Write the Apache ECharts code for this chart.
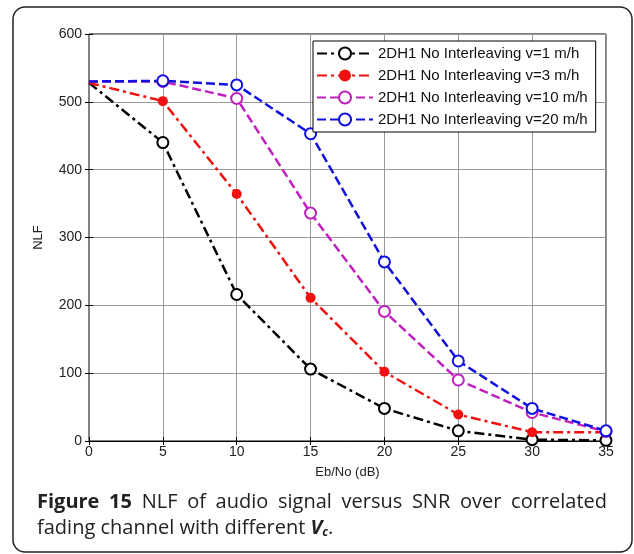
<!DOCTYPE html>
<html>
<head>
    <meta charset="utf-8"/>
    <title>NLF vs Eb/No</title>
    <script type="text/javascript" src="https://cdn.jsdelivr.net/npm/echarts@6/dist/echarts.min.js"></script>
    <style>
        html, body {
            margin: 0;
            padding: 0;
            background: #fff;
        }
    </style>
</head>
<body>
<div id="chart" style="width:634px;height:554px"></div>
<script type="text/javascript">
    // Eb/No (dB)
    const snr = [0, 5, 10, 15, 20, 25, 30, 35];
    const v1 = [528, 440, 216, 106, 48, 15, 2, 1];
    const v3 = [528, 501, 364, 211, 102, 39, 13, 13];
    const v10 = [530, 530, 505, 336, 191, 90, 42, 14];
    const v20 = [530, 531, 525, 453, 264, 118, 48, 15];
    const names = [
        '2DH1 No Interleaving v=1 m/h',
        '2DH1 No Interleaving v=3 m/h',
        '2DH1 No Interleaving v=10 m/h',
        '2DH1 No Interleaving v=20 m/h'
    ];
    const captionWords = ['Figure', '15', 'NLF', 'of', 'audio', 'signal', 'versus', 'SNR', 'over', 'correlated'];

    // no marker drawn on the first point (0 dB)
    function pairs(ys) {
        return snr.map((x, i) => i === 0 ? {value: [x, ys[i]], symbol: 'none'} : [x, ys[i]]);
    }

    const dashDot = [10, 4, 3, 4];
    const dash = [9, 4];

    function mkSeries(name, ys, color, dashType, filled) {
        return {
            name: name,
            type: 'line',
            data: pairs(ys),
            symbol: filled ? 'circle' : 'emptyCircle',
            symbolSize: filled ? 10 : 11,
            lineStyle: {color: color, width: 2.5, type: dashType},
            itemStyle: {color: color, borderWidth: 2.5},
            z: 3
        };
    }

    // caption: first line justified between x=37 and x=607
    const capFont = 20;
    const cv = document.createElement('canvas').getContext('2d');
    function measure(t, bold) {
        cv.font = (bold ? 'bold ' : '') + capFont + 'px "Open Sans"';
        return cv.measureText(t).width;
    }
    const capLeft = 37, capRight = 607;
    let total = 0;
    captionWords.forEach((w, i) => total += measure(w, i < 2));
    const gap = (capRight - capLeft - total) / (captionWords.length - 1);
    const capGraphics = [];
    let cx = capLeft;
    captionWords.forEach((w, i) => {
        capGraphics.push({
            type: 'text',
            x: cx, y: 502,
            style: {
                text: w,
                font: (i < 2 ? 'bold ' : '') + capFont + 'px "Open Sans"',
                fill: '#222',
                textVerticalAlign: 'middle'
            }
        });
        cx += measure(w, i < 2) + gap;
    });

    const chart = echarts.init(document.getElementById('chart'));
    const axisFont = {fontFamily: 'Liberation Sans', fontSize: 14, color: '#222'};

    chart.setOption({
        animation: false,
        grid: {
            left: 89, right: 28, top: 34, bottom: 113,
            show: true, borderColor: '#000', borderWidth: 1
        },
        legend: {
            data: names,
            orient: 'vertical',
            left: 313, top: 41,
            padding: [5, 8, 5, 3],
            itemGap: 7,
            itemWidth: 56,
            itemHeight: 15,
            backgroundColor: '#fff',
            borderColor: '#000',
            borderWidth: 1,
            borderRadius: 0,
            textStyle: {fontFamily: 'Liberation Sans', fontSize: 15, color: '#111'}
        },
        xAxis: [{
            type: 'value',
            min: 0, max: 35, interval: 5,
            name: 'Eb/No (dB)',
            nameLocation: 'middle',
            nameGap: 25,
            nameTextStyle: {fontFamily: 'Liberation Sans', fontSize: 13, color: '#222'},
            axisLine: {show: true, lineStyle: {color: '#000'}},
            axisTick: {show: true, inside: true, length: 4, lineStyle: {color: '#000'}},
            axisLabel: Object.assign({margin: 4}, axisFont),
            splitLine: {show: true, lineStyle: {color: '#999', width: 1}}
        }, {
            type: 'value',
            position: 'top',
            min: 0, max: 35, interval: 5,
            axisLine: {show: true, lineStyle: {color: '#000'}},
            axisTick: {show: true, inside: true, length: 4, lineStyle: {color: '#000'}},
            axisLabel: {show: false},
            splitLine: {show: false}
        }],
        yAxis: [{
            type: 'value',
            min: 0, max: 600, interval: 100,
            name: 'NLF',
            nameLocation: 'middle',
            nameGap: 44,
            nameTextStyle: {fontFamily: 'Liberation Sans', fontSize: 13, color: '#222'},
            axisLine: {show: true, lineStyle: {color: '#000'}},
            axisTick: {show: true, inside: true, length: 4, lineStyle: {color: '#000'}},
            axisLabel: Object.assign({margin: 7}, axisFont),
            splitLine: {show: true, lineStyle: {color: '#999', width: 1}}
        }, {
            type: 'value',
            position: 'right',
            min: 0, max: 600, interval: 100,
            axisLine: {show: true, lineStyle: {color: '#888'}},
            axisTick: {show: true, inside: true, length: 4, lineStyle: {color: '#000'}},
            axisLabel: {show: false},
            splitLine: {show: false}
        }],
        series: [
            mkSeries(names[0], v1, '#000', dashDot, false),
            mkSeries(names[1], v3, '#f01010', dashDot, true),
            mkSeries(names[2], v10, '#c020c0', dash, false),
            mkSeries(names[3], v20, '#1010e0', dash, false)
        ],
        graphic: [{
            type: 'rect',
            shape: {x: 13, y: 7, width: 619, height: 545, r: 12},
            style: {fill: 'none', stroke: '#222', lineWidth: 1.5},
            silent: true
        }].concat(capGraphics, [{
            type: 'text',
            left: 37, top: 518,
            style: {
                text: '{n|fading channel with different }{i|V}{s|c}{n|.}',
                rich: {
                    n: {fontFamily: 'Open Sans', fontSize: capFont, fill: '#222'},
                    i: {fontFamily: 'Open Sans', fontStyle: 'italic', fontWeight: 'bold', fontSize: capFont, fill: '#222'},
                    s: {fontFamily: 'Open Sans', fontStyle: 'italic', fontWeight: 'bold', fontSize: 12, fill: '#222', padding: [10, 0, 0, 0]}
                }
            }
        }])
    });
</script>
</body>
</html>
